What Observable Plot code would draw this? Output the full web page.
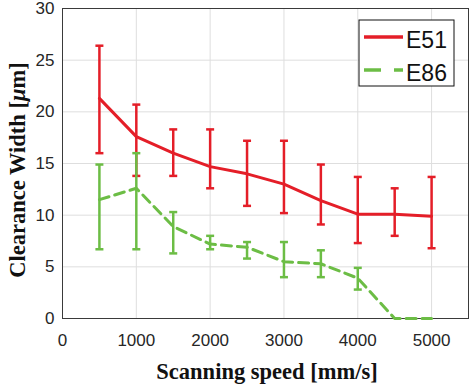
<!DOCTYPE html>
<html>
<head>
<meta charset="utf-8">
<script src="https://cdn.jsdelivr.net/npm/d3@7"></script>
<script src="https://cdn.jsdelivr.net/npm/@observablehq/plot@0.6"></script>
<style>
  html, body { margin: 0; padding: 0; background: #fff; }
  #chart { position: relative; width: 473px; height: 384px; }
</style>
</head>
<body>
<div id="chart"></div>
<script>
// ---- data ----
const speeds   = [500, 1000, 1500, 2000, 2500, 3000, 3500, 4000, 4500, 5000];
const e51Mean  = [21.3, 17.6, 16.0, 14.7, 14.0, 13.0, 11.4, 10.1, 10.1, 9.9];
const e51Low   = [16.0, 13.8, 13.8, 12.6, 10.9, 10.2, 9.1, 7.3, 8.0, 6.8];
const e51High  = [26.4, 20.7, 18.3, 18.3, 17.2, 17.2, 14.9, 13.7, 12.6, 13.7];
const e86Mean  = [11.5, 12.6, 8.9, 7.2, 6.9, 5.5, 5.3, 3.9, 0, 0];
const e86Low   = [6.7, 6.7, 6.3, 6.7, 5.8, 4.0, 4.0, 2.8, null, null];
const e86High  = [14.9, 16.0, 10.3, 8.0, 7.4, 7.4, 6.6, 4.9, null, null];
const xTicks   = [0, 1000, 2000, 3000, 4000, 5000];
const yTicks   = [0, 5, 10, 15, 20, 25, 30];
const seriesNames = ["E51", "E86"];
const colors = {E51: "#e41e28", E86: "#6cbd45"};

const e51 = speeds.map((s, i) => ({x: s, y: e51Mean[i], lo: e51Low[i], hi: e51High[i]}));
const e86 = speeds.map((s, i) => ({x: s, y: e86Mean[i], lo: e86Low[i], hi: e86High[i]}));
const e86Err = e86.filter(d => d.lo != null);

// horizontal cap symbol for error bars
const cap = {draw(ctx, size) { const w = Math.sqrt(size / Math.PI); ctx.moveTo(-w, 0); ctx.lineTo(w, 0); }};

function errMarks(data, color) {
  return [
    Plot.ruleX(data, {x: "x", y1: "lo", y2: "hi", stroke: color, strokeWidth: 2.5}),
    Plot.dot(data, {x: "x", y: "hi", symbol: cap, r: 4, stroke: color, strokeWidth: 2.5}),
    Plot.dot(data, {x: "x", y: "lo", symbol: cap, r: 4, stroke: color, strokeWidth: 2.5})
  ];
}

const W = 473, H = 384, ML = 62, MR = 5, MT = 8, MB = 66;

const plot = Plot.plot({
  width: W, height: H,
  marginLeft: ML, marginRight: MR, marginTop: MT, marginBottom: MB,
  style: {fontFamily: "'Liberation Sans', Arial, sans-serif", fontSize: "17px", color: "#262626", background: "#fff", overflow: "visible"},
  x: {domain: [0, 5500], label: null},
  y: {domain: [0, 30], label: null},
  marks: [
    Plot.ruleX(xTicks, {stroke: "#dedede", strokeWidth: 1}),
    Plot.ruleY(yTicks, {stroke: "#dedede", strokeWidth: 1}),
    Plot.axisX({ticks: xTicks, tickSize: 0, tickPadding: 15, tickFormat: d => String(d), label: null}),
    Plot.axisY({ticks: yTicks, tickSize: 0, tickPadding: 8, label: null}),
    Plot.frame({stroke: "#3a3a3a", strokeWidth: 1}),
    ...errMarks(e51, colors.E51),
    ...errMarks(e86Err, colors.E86),
    Plot.line(e51, {x: "x", y: "y", stroke: colors.E51, strokeWidth: 3}),
    Plot.line(e86, {x: "x", y: "y", stroke: colors.E86, strokeWidth: 3, strokeDasharray: "10,6"})
  ]
});

document.getElementById("chart").appendChild(plot);

const svg = d3.select(plot);

// axis titles
svg.append("text")
  .attr("x", 267).attr("y", 379)
  .attr("text-anchor", "middle")
  .attr("font-family", "'Liberation Serif', 'Times New Roman', serif")
  .attr("font-weight", "bold").attr("font-size", 22.5).attr("fill", "#111")
  .text("Scanning speed [mm/s]");

const yl = svg.append("text")
  .attr("transform", `translate(25,170) rotate(-90)`)
  .attr("text-anchor", "middle")
  .attr("font-family", "'Liberation Serif', 'Times New Roman', serif")
  .attr("font-weight", "bold").attr("font-size", 22.5).attr("fill", "#111");
yl.append("tspan").text("Clearance Width [");
yl.append("tspan").attr("font-style", "italic").text("μ");
yl.append("tspan").text("m]");

// legend
const lg = svg.append("g").attr("transform", "translate(359,20)");
lg.append("rect").attr("width", 95).attr("height", 66).attr("fill", "#fff").attr("stroke", "#111").attr("stroke-width", 1);
seriesNames.forEach((name, i) => {
  const yy = 17 + i * 33;
  lg.append("line").attr("x1", 5).attr("x2", 44).attr("y1", yy).attr("y2", yy)
    .attr("stroke", colors[name]).attr("stroke-width", 3.5)
    .attr("stroke-dasharray", name === "E86" ? "17,13" : null);
  lg.append("text").attr("x", 47).attr("y", yy + 3).attr("dy", "0.36em")
    .attr("text-anchor", "start")
    .attr("font-family", "'Liberation Sans', Arial, sans-serif").attr("font-size", 23).attr("fill", "#111")
    .text(name);
});
</script>
</body>
</html>
